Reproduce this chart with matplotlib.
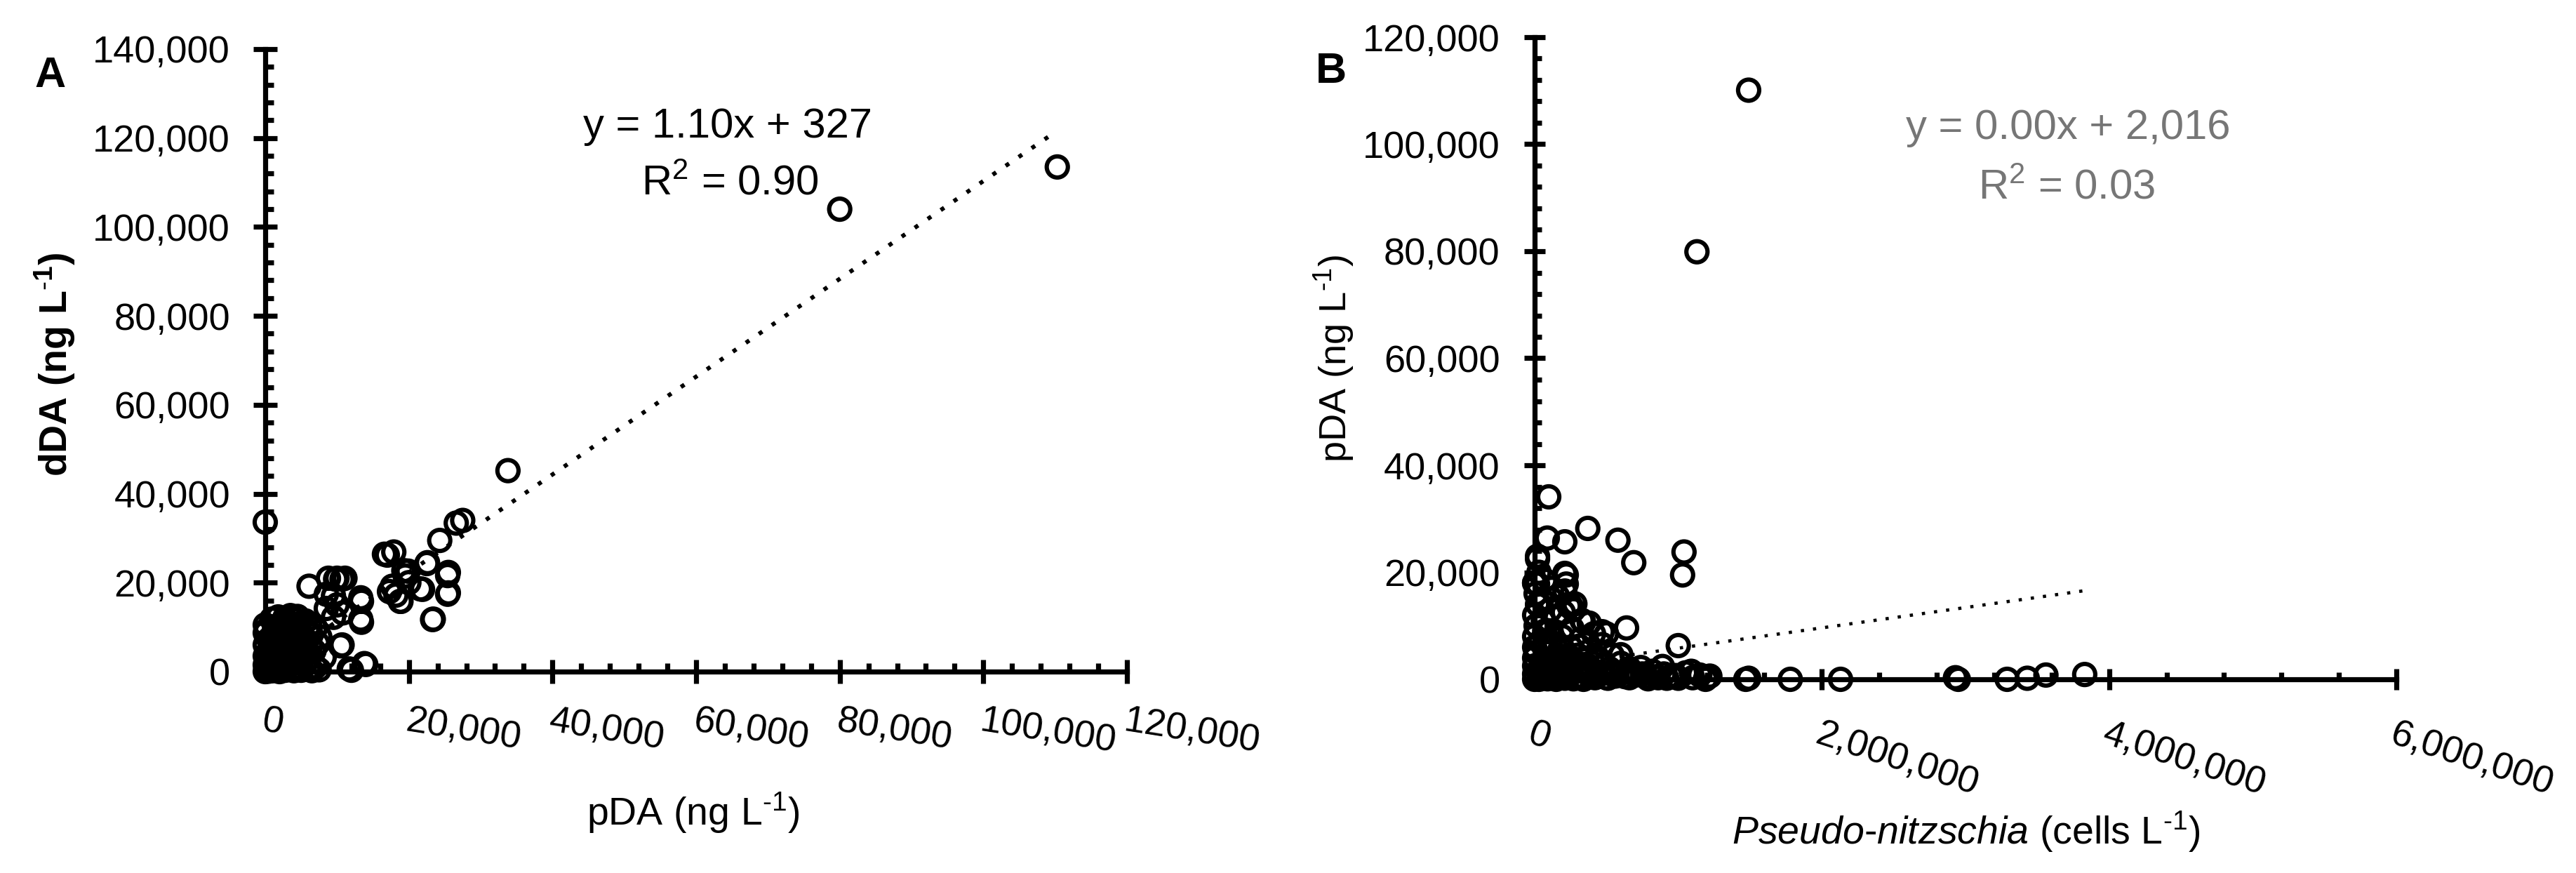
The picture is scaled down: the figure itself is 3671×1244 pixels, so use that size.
import matplotlib
matplotlib.use("Agg")
import matplotlib.pyplot as plt
from matplotlib.ticker import MultipleLocator, FixedLocator

plt.rcParams['font.family'] = ['Liberation Sans', 'DejaVu Sans']
plt.rcParams['mathtext.fontset'] = 'custom'
plt.rcParams['mathtext.rm'] = 'Liberation Sans'
plt.rcParams['mathtext.it'] = 'Liberation Sans:italic'
plt.rcParams['mathtext.bf'] = 'Liberation Sans:bold'

# panel A: pDA (x) vs dDA (y), ng/L
pda_a = [110300, 80000, 33800, 26600, 27500, 24300, 17000, 17900, 22600, 19900,
         25500, 25500, 21600, 18200, 18800, 23400, 17700, 6100, 9800, 10700,
         13300, 13300, 10700, 9500, 10000, 12000, 13800, 0, 0,
         8800, 10000, 11100, 13400, 13400, 10500, 8500, 9500, 10800, 8500,
         11700, 14000, 16600, 19300, 22500, 25400, 25400, 21900, 17300, 18900,
         23300, 20000, 19500,
         0, 200, 500, 800, 1000, 1300, 1600, 2000, 2400, 2800, 3200, 3600, 4000,
         4500, 5000, 5500, 6000, 6500, 7000, 7500,
         0, 300, 700, 1100, 1500, 1900, 2300, 2700, 3100, 3500, 3900, 4400, 4800,
         5300, 5800, 6300, 6800, 7300,
         0, 400, 800, 1200, 1600, 2000, 2400, 2800, 3200, 3600, 4000, 4400, 4900,
         5400, 5900, 6400, 7000,
         0, 500, 1000, 1500, 2000, 2500, 3000, 3600, 4200, 4800, 5600, 6200,
         0, 900, 1800, 2700, 3500, 4500,
         100, 600, 1200, 1700, 2200, 2600, 3000, 3400, 3800, 4300, 200, 700, 1300,
         1900, 2500, 3300, 4100, 5100, 6000, 7600, 8200]
dda_a = [113500, 104000, 45200, 33400, 34000, 29500, 26200, 26900, 24500, 22600,
         22300, 17700, 18600, 17200, 15800, 11800, 19200, 19200, 20800, 20800,
         16600, 11800, 6000, 17000, 15000, 300, 1800, 33600, 8700,
         21000, 21000, 21000, 15800, 11100, 5800, 14200, 12200, 13200, 17400,
         600, 1600, 26400, 22700, 24300, 21600, 17400, 18500, 18000, 15800,
         11700, 20000, 21500,
         0, 300, 100, 600, 200, 900, 400, 0, 700, 300, 1200, 500, 200,
         900, 300, 1500, 600, 200, 1100, 400,
         1500, 2200, 1800, 2600, 2000, 3100, 2500, 3600, 2900, 4100, 3300, 4600, 3700,
         5200, 4200, 5800, 4700, 6300,
         3500, 4400, 5200, 4000, 6000, 5100, 6800, 5600, 7400, 6400, 8000, 7100, 8700,
         7600, 9200, 8300, 9800,
         6000, 7200, 8100, 9000, 9800, 10500, 11200, 10300, 11600, 10800, 11400, 10400,
         10500, 11800, 12300, 12000, 12600, 12400,
         1000, 2800, 500, 3800, 1400, 4900, 800, 7000, 2100, 8600, 9400, 6600, 10100,
         7900, 9000, 8900, 10000, 2600, 3000, 7800, 3200]

# panel B: Pseudo-nitzschia (cells/L) vs pDA (ng/L)
pn_b = [1490000, 1130000, 98000, 88000, 210000, 370000, 580000, 690000, 1040000, 1030000,
        20000, 220000, 220000, 20000, 640000, 1000000, 250000, 380000, 500000,
        210000, 240000, 340000, 470000, 600000, 890000, 1090000, 1220000, 280000, 0,
        1190000, 1200000, 1470000, 1490000, 1780000, 2130000, 2930000, 2950000,
        3290000, 3430000, 3560000, 3830000,
        0, 0, 0, 0, 0, 0, 10000, 0, 20000, 10000, 0, 30000, 20000,
        50000, 40000, 60000, 50000, 70000, 80000, 90000, 100000, 110000, 120000,
        130000, 140000, 150000, 160000, 170000, 180000, 190000, 200000, 210000,
        230000, 240000, 250000, 260000, 270000, 290000, 300000, 320000, 330000,
        350000, 370000, 390000, 410000, 430000, 450000, 470000, 500000, 520000,
        540000, 570000, 600000, 630000, 660000, 700000, 740000, 780000, 820000,
        860000, 900000, 950000, 1000000, 1050000, 1100000, 1150000,
        30000, 60000, 90000, 120000, 150000, 180000, 210000, 240000, 270000,
        300000, 340000, 380000, 420000, 460000, 510000, 560000, 610000, 660000,
        720000, 790000, 850000, 920000, 980000, 40000, 80000, 130000, 170000,
        220000, 280000, 330000, 400000, 480000, 560000, 650000, 750000, 10000,
        70000, 110000, 160000, 200000, 260000, 310000, 360000, 440000]
pda_b = [110100, 79900, 34100, 26400, 25700, 28200, 26000, 21800, 23800, 19500,
         22500, 19500, 17800, 17800, 9600, 6300, 13800, 10500, 8500,
         19800, 13700, 10700, 8900, 4600, 2400, 1500, 600, 14100, 18000,
         0, 300, 0, 200, 0, 0, 300, 0,
         0, 200, 800, 900,
         0, 1000, 2500, 4000, 6000, 8000, 10000, 12000, 14000, 16000, 18000, 20000, 23000,
         3000, 7000, 11000, 15000, 18500, 500, 5000, 9000, 13000, 17000,
         2000, 6500, 11500, 15500, 1000, 4000, 8000, 12500, 16500,
         500, 3000, 6000, 9500, 13000, 1500, 4500, 7500, 11000,
         200, 2500, 5500, 8500, 1000, 3500, 6500, 300, 2000,
         4500, 1200, 3000, 500, 2000, 800, 2200, 400, 1500,
         300, 1000, 600, 200, 1200, 300, 800,
         0, 300, 100, 500, 0, 400, 200, 700, 100, 500, 0, 800, 300, 1000, 200,
         600, 1200, 300, 900, 100, 500, 200, 700, 1800, 2200, 1500, 2600,
         1900, 3200, 2400, 1800, 2700, 1300, 1600, 1000, 5000, 9000,
         7000, 4500, 5500, 3800, 6200, 2800, 4000]

fit_a = (1.10, 327)
fit_b = (0.0038, 2016)

W, H = 3671, 1244
fig = plt.figure(figsize=(W / 100, H / 100), dpi=100)

axA = fig.add_axes([378 / W, 1 - 957 / H, 1228 / W, 887 / H])
axB = fig.add_axes([2187 / W, 1 - 968 / H, 1228 / W, 915 / H])


def style(ax, major_len, minor_len, lw):
    for s in ['top', 'right']:
        ax.spines[s].set_visible(False)
    for s in ['left', 'bottom']:
        ax.spines[s].set_linewidth(lw)
    ax.tick_params(which='major', direction='inout', length=major_len, width=lw,
                   labelsize=39)
    ax.tick_params(which='minor', direction='in', length=minor_len, width=lw)
    ax.set_facecolor('none')


def fmt(v):
    return f"{v:,.0f}"


# ---- panel A
style(axA, 24, 8.5, 5.2)
axA.set_xlim(0, 120000)
axA.set_ylim(0, 140000)
xt = list(range(0, 120001, 20000))
yt = list(range(0, 140001, 20000))
axA.xaxis.set_major_locator(FixedLocator(xt))
axA.yaxis.set_major_locator(FixedLocator(yt))
axA.xaxis.set_minor_locator(MultipleLocator(4000))
axA.yaxis.set_minor_locator(MultipleLocator(4000))
axA.set_yticklabels([fmt(v) for v in yt])
axA.set_xticklabels([fmt(v) for v in xt], rotation=-9, ha='left', va='top',
                    rotation_mode='anchor')
axA.tick_params(axis='y', pad=24)
axA.tick_params(axis='x', pad=21)

xa = [0, max(pda_a)]
axA.plot(xa, [fit_a[0] * v + fit_a[1] for v in xa], color='black', lw=4.3,
         linestyle=(0, (1, 2.75)), zorder=2, clip_on=False)
axA.scatter(pda_a, dda_a, s=470, facecolors='none', edgecolors='black',
            linewidths=4.4, zorder=3, clip_on=False)

# ---- panel B
style(axB, 21, 7.5, 5.2)
axB.set_xlim(0, 6000000)
axB.set_ylim(0, 120000)
xtb = list(range(0, 6000001, 2000000))
ytb = list(range(0, 120001, 20000))
axB.xaxis.set_major_locator(FixedLocator(xtb))
axB.yaxis.set_major_locator(FixedLocator(ytb))
axB.xaxis.set_minor_locator(MultipleLocator(400000))
axB.yaxis.set_minor_locator(MultipleLocator(4000))
axB.set_yticklabels([fmt(v) for v in ytb])
axB.set_xticklabels([fmt(v) for v in xtb], rotation=-18, ha='left', va='top',
                    rotation_mode='anchor')
axB.tick_params(axis='y', pad=25)
axB.tick_params(axis='x', pad=28)

xb = [0, max(pn_b)]
axB.plot(xb, [fit_b[0] * v + fit_b[1] for v in xb], color='black', lw=3.3,
         linestyle=(0, (1, 2.8)), zorder=2, clip_on=False)
axB.scatter(pn_b, pda_b, s=470, facecolors='none', edgecolors='black',
            linewidths=4.4, zorder=3, clip_on=False)

# ---- texts
fig.text(72 / W, 1 - 109 / H, 'A', fontsize=44, fontweight='bold', ha='center', va='center')
fig.text(1897 / W, 1 - 103 / H, 'B', fontsize=44, fontweight='bold', ha='center', va='center')

fig.text(78 / W, 1 - 519 / H, r'dDA (ng L$^{\mathbf{\text{-}1}}$)', fontsize=40,
         fontweight='bold', rotation=90, ha='center', va='center')
fig.text(1902 / W, 1 - 511 / H, r'pDA (ng L$^{\text{-}1}$)', fontsize=39,
         rotation=90, ha='center', va='center')
fig.text(988 / W, 1 - 1158 / H, r'pDA (ng L$^{\text{-}1}$)', fontsize=40,
         ha='center', va='center')
fig.text(2802 / W, 1 - 1185 / H,
         r'$\mathit{Pseudo}$-$\mathit{nitzschia}$ (cells L$^{\text{-}1}$)',
         fontsize=40, ha='center', va='center')

fig.text(1037 / W, 1 - 181 / H, 'y = 1.10x + 327', fontsize=43, ha='center', va='center')
fig.text(1040 / W, 1 - 262 / H, r'R$^{2}$ = 0.90', fontsize=43, ha='center', va='center')
fig.text(2947 / W, 1 - 182 / H, 'y = 0.00x + 2,016', fontsize=43, ha='center', va='center',
         color='#767676')
fig.text(2945 / W, 1 - 268 / H, r'R$^{2}$ = 0.03', fontsize=43, ha='center', va='center',
         color='#767676')

fig.savefig('out.png', dpi=100, facecolor='white')
